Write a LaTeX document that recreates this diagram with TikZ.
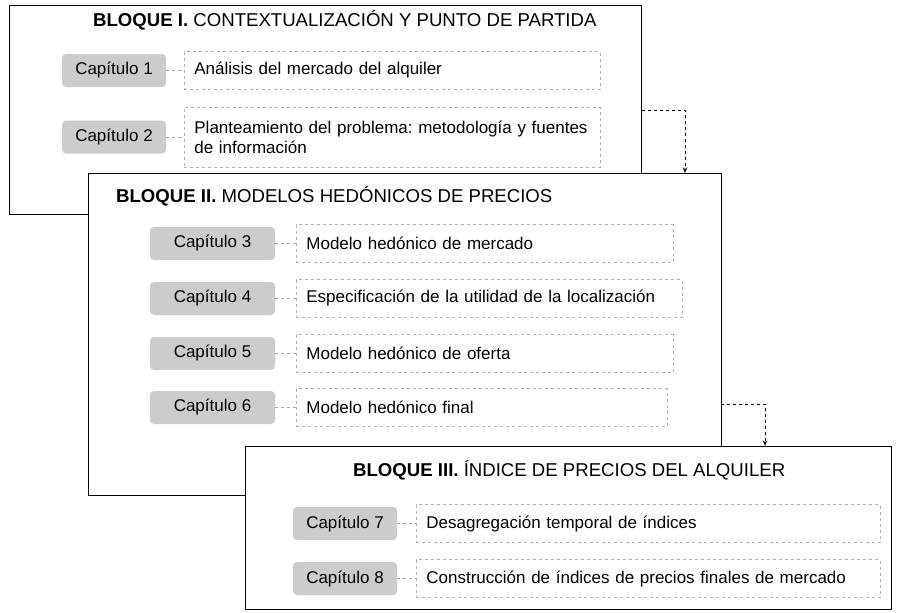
\documentclass[tikz,border=0pt]{standalone}
\usepackage{fontspec}
\setmainfont{Liberation Sans}
\usetikzlibrary{arrows.meta,positioning}
\frenchspacing

\begin{document}
\begin{tikzpicture}[
    x=1pt, y=-1pt,
    font=\fontsize{17}{20}\selectfont,
    >=Stealth,
    bloque/.style={draw, line width=1pt, fill=white, anchor=north west, inner sep=0pt},
    titulo/.style={anchor=west, inner sep=0pt, font=\fontsize{18.6}{22}\selectfont},
    capitulo/.style={fill=black!20, rounded corners=4pt, minimum height=33pt, inner sep=0pt},
    tema/.style={draw=black!30, dashed, align=left, inner xsep=10pt, minimum height=38pt},
    enlace/.style={draw=black!35, dashed},
    flujo/.style={thick, dashed, -{Stealth[length=2mm, width=1.6mm]}}
]
\useasboundingbox (0,0) rectangle (897,613);

% Bloque I
\node[bloque, minimum width=632pt, minimum height=209pt] (blk1) at (9,5) {};
\node[titulo] (tit1) at (93,20) {\textbf{BLOQUE I.} CONTEXTUALIZACIÓN Y PUNTO DE PARTIDA};
\node[capitulo, minimum width=104pt] (cap1) at (114,70.5) {Capítulo 1};
\node[capitulo, minimum width=104pt] (cap2) at (114,137) {Capítulo 2};
\node[tema, right=18pt of cap1, text width=396pt] (tema1) {Análisis del mercado del alquiler};
\node[tema, right=18pt of cap2, text width=396pt, minimum height=60pt] (tema2) {Planteamiento del problema: metodología y fuentes\\de información};
\draw[enlace] (cap1) -- (tema1);
\draw[enlace] (cap2) -- (tema2);

% Bloque II
\node[bloque, minimum width=633pt, minimum height=322pt] (blk2) at (88,173) {};
\node[titulo] (tit2) at (116,196) {\textbf{BLOQUE II.} MODELOS HEDÓNICOS DE PRECIOS};
\node[capitulo, minimum width=125pt] (cap3) at (212.5,243.5) {Capítulo 3};
\node[capitulo, minimum width=125pt] (cap4) at (212.5,298.5) {Capítulo 4};
\node[capitulo, minimum width=125pt] (cap5) at (212.5,353.5) {Capítulo 5};
\node[capitulo, minimum width=125pt] (cap6) at (212.5,407.5) {Capítulo 6};
\node[tema, right=21pt of cap3, text width=357pt] (tema3) {Modelo hedónico de mercado};
\node[tema, right=21pt of cap4, text width=366pt] (tema4) {Especificación de la utilidad de la localización};
\node[tema, right=21pt of cap5, text width=357pt] (tema5) {Modelo hedónico de oferta};
\node[tema, right=21pt of cap6, text width=351pt] (tema6) {Modelo hedónico final};
\foreach \i in {3,...,6}
    \draw[enlace] (cap\i) -- (tema\i);

% Bloque III
\node[bloque, minimum width=646pt, minimum height=163pt] (blk3) at (245,446) {};
\node[titulo] (tit3) at (353,470) {\textbf{BLOQUE III.} ÍNDICE DE PRECIOS DEL ALQUILER};
\node[capitulo, minimum width=104pt] (cap7) at (345,523.5) {Capítulo 7};
\node[capitulo, minimum width=104pt] (cap8) at (345,578.5) {Capítulo 8};
\node[tema, right=19pt of cap7, text width=444pt] (tema7) {Desagregación temporal de índices};
\node[tema, right=19pt of cap8, text width=444pt] (tema8) {Construcción de índices de precios finales de mercado};
\foreach \i in {7,8}
    \draw[enlace] (cap\i) -- (tema\i);

% flujo entre bloques
\coordinate (fin1) at (685,173);
\coordinate (ini2) at (721,404);
\coordinate (fin2) at (765,446);
\draw[flujo] (blk1.east) -| (fin1);
\draw[flujo] (ini2) -| (fin2);
\end{tikzpicture}
\end{document}
